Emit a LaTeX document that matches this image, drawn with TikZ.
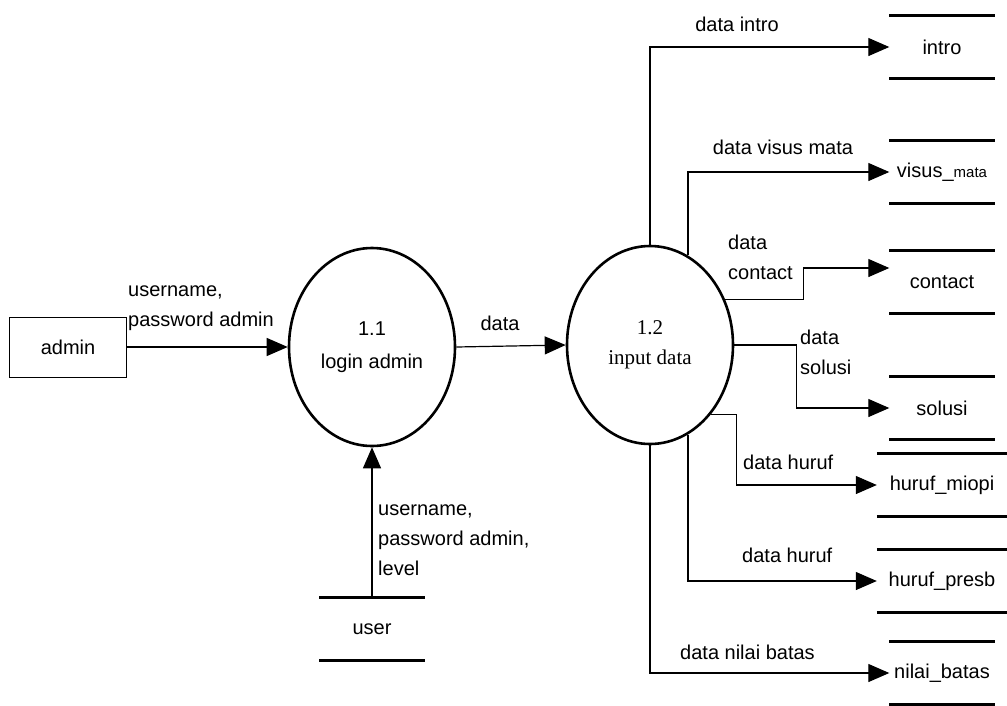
\documentclass[tikz,border=0pt]{standalone}
\usepackage{fontspec}
\setmainfont{Liberation Sans}
\newfontfamily\serifnum{Liberation Serif}
\usepackage{tikz}
\usetikzlibrary{shapes.geometric,arrows.meta}
\def\lbl{\fontsize{20}{30}\selectfont}

\begin{document}
\begin{tikzpicture}[x=1pt,y=-1pt,
    proc/.style={ellipse,draw,line width=2.6pt,minimum width=166pt,minimum height=198pt,inner sep=0pt,align=center},
    store/.style={minimum width=105pt,minimum height=62pt,inner sep=0pt},
    wide/.style={minimum width=130pt},
    flow/.style={line width=1.2pt,-{Triangle[length=21pt,width=18pt]}},
    storeline/.style={line width=3pt},
    txt/.style={inner sep=0pt,align=left,font=\lbl}]
\useasboundingbox (0,0) rectangle (1007,705);
% external entity and processes
\node[draw,line width=0.9pt,minimum width=117pt,minimum height=60pt,font=\lbl] (admin) at (68,347) {admin};
\node[proc,font=\fontsize{20}{33}\selectfont] (login) at (372,347) {1.1\\login admin};
\node[proc,font=\serifnum\fontsize{21}{30}\selectfont] (input) at (650,345) {1.2\\input data};
% data stores
\begin{scope}[every node/.style={font=\lbl}]
\node[store] (intro) at (942,47) {intro};
\node[store] (visus) at (942,172) {visus\_{\fontsize{15}{15}\selectfont mata}};
\node[store] (contact) at (942,282) {contact};
\node[store] (solusi) at (942,408) {solusi};
\node[store,wide] (miopi) at (942,485) {huruf\_miopi};
\node[store,wide] (presb) at (942,581) {huruf\_presb};
\node[store] (nilai) at (942,673) {nilai\_batas};
\node[store] (user) at (372,629) {user};
\end{scope}
\foreach \s in {intro,visus,contact,solusi,miopi,presb,nilai,user}
    \draw[storeline] (\s.north west) -- (\s.north east) (\s.south west) -- (\s.south east);
% flows
\draw[flow] (admin.east) -- (login.west);
\draw[flow] (login.east) -- (input.west);
\draw[flow] (user.north) -- (login.south);
\draw[flow] (input.north) |- (intro.west);
\draw[flow] (input.67) |- (visus.west);
\draw[flow] (input.31) -- ++(78,0) |- ([yshift=14pt]contact.west);
\draw[flow] (input.east) -- ++(62,0) |- (solusi.west);
\draw[flow] (input.-49) -- ++(26,0) |- (miopi.west);
\draw[flow] (input.-67) |- (presb.west);
\draw[flow] (input.south) |- (nilai.west);
% labels
\node[txt,anchor=west] (l1) at (128,308) {username,\\password admin};
\node[txt] (l2) at (500,323) {data};
\node[txt,anchor=west] (l3) at (378,540) {username,\\password admin,\\level};
\node[txt] (l4) at (737,24) {data intro};
\node[txt] (l5) at (783,147) {data visus mata};
\node[txt,anchor=west] (l6) at (728,257) {data\\contact};
\node[txt,anchor=west] (l7) at (800,352) {data\\solusi};
\node[txt,anchor=west] (l8) at (743,462) {data huruf};
\node[txt,anchor=west] (l9) at (742,555) {data huruf};
\node[txt,anchor=west] (l10) at (680,652) {data nilai batas};
\end{tikzpicture}
\end{document}
